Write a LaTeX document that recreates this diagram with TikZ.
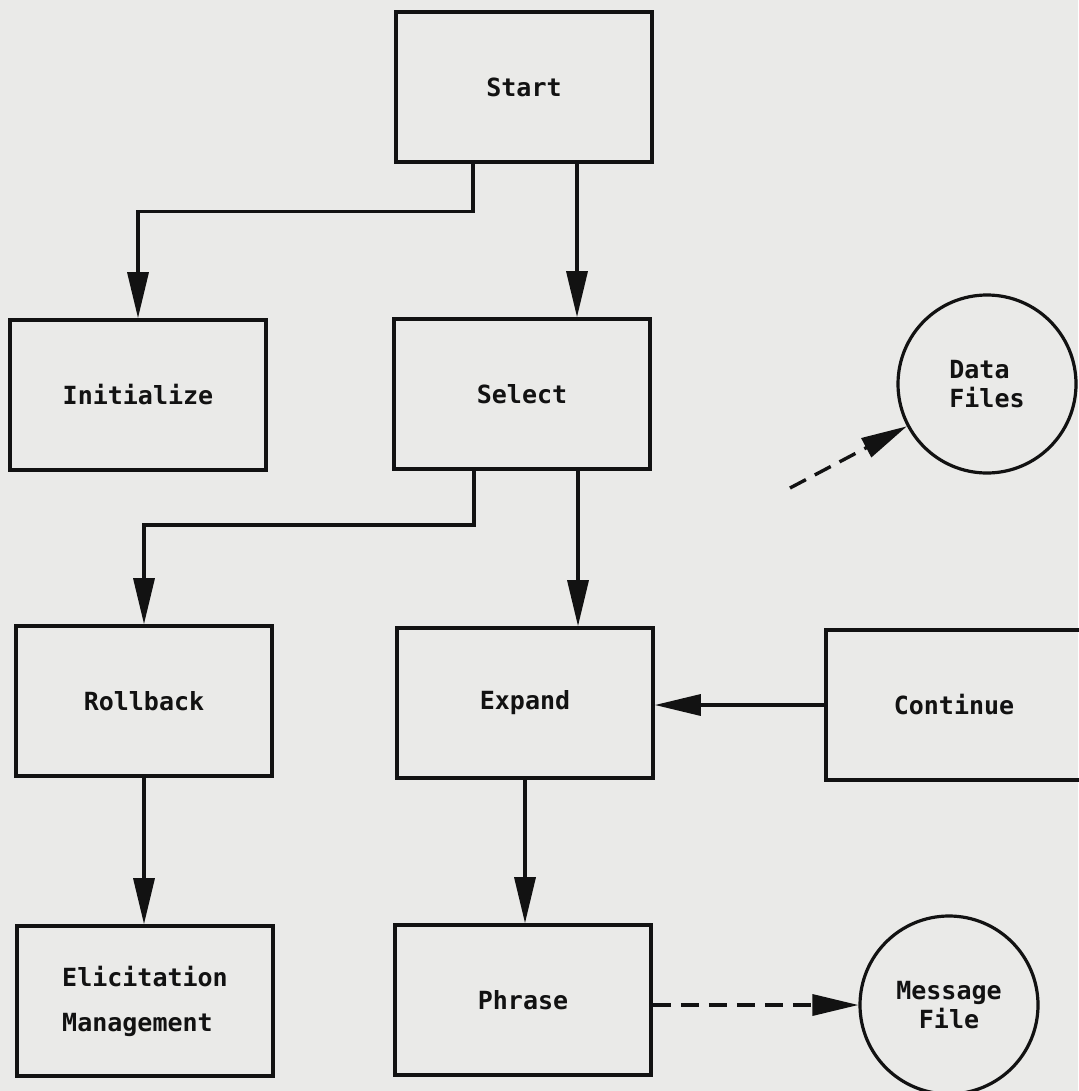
\documentclass[tikz,border=0pt]{standalone}
\usepackage{fontspec}
\setmonofont{DejaVu Sans Mono}
\usetikzlibrary{arrows.meta,positioning,shapes.geometric,calc}
\definecolor{paper}{RGB}{234,234,232}
\definecolor{ink}{RGB}{18,18,18}

\begin{document}
\begin{tikzpicture}[
  x=0.5pt,y=-0.5pt,
  every node/.style={font=\ttfamily\bfseries\fontsize{12.5}{22.5}\selectfont,text=ink},
  flowblock/.style={draw=ink,line width=1.8pt,minimum width=128pt,minimum height=75pt,
                    align=left,inner sep=0pt},
  filecirc/.style={draw=ink,line width=1.6pt,circle,minimum size=89pt,inner sep=0pt,
                   align=left,font=\ttfamily\bfseries\fontsize{12.5}{14.5}\selectfont},
  arr/.style={-{Triangle[length=23pt,width=10.5pt]},line width=1.7pt,ink},
  darr/.style={arr,dash pattern=on 9pt off 5pt},
]
  % Paper
  \fill[paper] (0,0) rectangle (1078,1091);
  \useasboundingbox (0,0) rectangle (1078,1091);

  % Modules
  \node[flowblock] (start) at (524,87) {Start};
  \node[flowblock] (init) at (138,395) {Initialize};
  \node[flowblock] (select) at (522,394) {Select};
  \node[flowblock] (rollback) at (144,701) {Rollback};
  \node[flowblock] (expand) at (525,703) {Expand};
  \node[flowblock] (cont) at (954,705) {Continue};
  \node[flowblock] (elic) at (145,1001) {Elicitation\\Management};
  \node[flowblock] (phrase) at (523,1000) {Phrase};

  % Files
  \node[filecirc] (data) at (987,384) {Data\\Files};
  \node[filecirc,align=center] (msg) at (949,1005) {Message\\File};

  % Arrows
  \draw[arr] ([xshift=-25.5pt]start.south) -- ++(0,48) -| (init.north);
  \draw[arr] ([xshift=26.5pt]start.south) -- ([xshift=26.5pt]start.south |- select.north);
  \draw[arr] ([xshift=-24pt]select.south) -- ++(0,54) -| (rollback.north);
  \draw[arr] ([xshift=28pt]select.south) -- ([xshift=28pt]select.south |- expand.north);
  \draw[arr] (rollback.south) -- (rollback.south |- elic.north);
  \draw[arr] (expand.south) -- (expand.south |- phrase.north);
  \draw[arr] (cont.west) -- (cont.west -| expand.east);

  % File access
  \coordinate (dfree) at (790,488);
  \draw[darr] (dfree) -- (data);
  \draw[darr] (msg.west -| phrase.east) -- (msg.west);
\end{tikzpicture}
\end{document}
